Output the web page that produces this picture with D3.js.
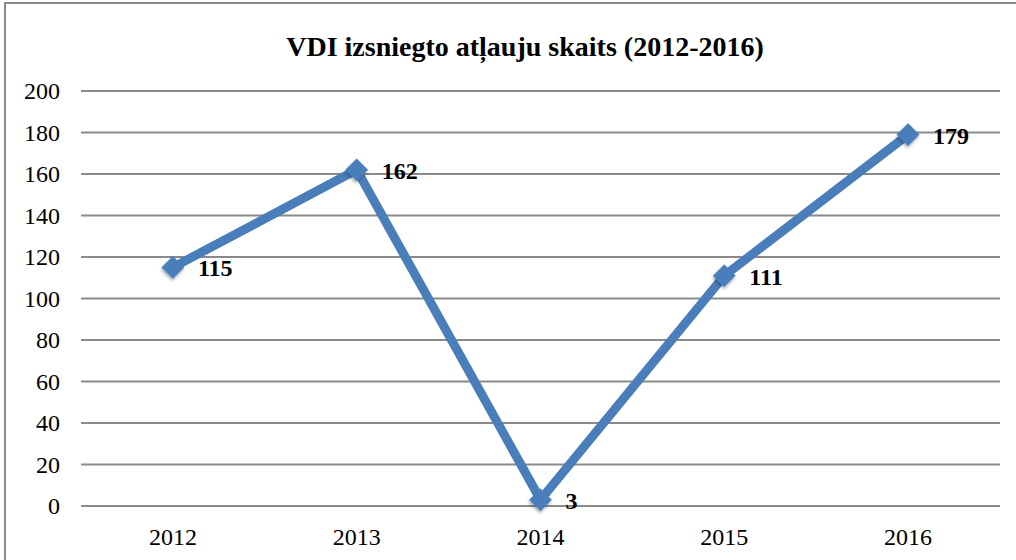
<!DOCTYPE html>
<html>
<head>
<meta charset="utf-8">
<script src="https://cdn.jsdelivr.net/npm/d3@7"></script>
<style>
  body { margin: 0; background: #fff; }
  svg text { font-family: "Liberation Serif", "Times New Roman", serif; fill: #000; }
</style>
</head>
<body>
<div class="chart"></div>
<script>
var svgWidth = 1016;
var svgHeight = 560;

// chart data
var years = ["2012", "2013", "2014", "2015", "2016"];
var permits = [115, 162, 3, 111, 179];
var yTicks = [0, 20, 40, 60, 80, 100, 120, 140, 160, 180, 200];
var chartTitle = "VDI izsniegto atļauju skaits (2012-2016)";

var margin = { top: 91, right: 16, bottom: 54, left: 81 };
var width = svgWidth - margin.left - margin.right;
var height = svgHeight - margin.top - margin.bottom;

var svg = d3.select(".chart")
  .append("svg")
  .attr("width", svgWidth)
  .attr("height", svgHeight);

// drop shadow for the markers
var defs = svg.append("defs");
var shadow = defs.append("filter").attr("id", "shadow")
  .attr("x", "-50%").attr("y", "-50%").attr("width", "200%").attr("height", "200%");
shadow.append("feDropShadow")
  .attr("dx", 1).attr("dy", 2).attr("stdDeviation", 1.5)
  .attr("flood-color", "#000").attr("flood-opacity", 0.35);

// outer frame
svg.append("rect")
  .attr("x", 5).attr("y", 3)
  .attr("width", svgWidth + 20).attr("height", svgHeight + 20)
  .attr("fill", "none")
  .attr("stroke", "#8c8c8c")
  .attr("stroke-width", 2);

// title
svg.append("text")
  .attr("x", 525)
  .attr("y", 56)
  .attr("text-anchor", "middle")
  .style("font-size", "28px")
  .style("font-weight", "bold")
  .text(chartTitle);

var chartGroup = svg.append("g")
  .attr("transform", `translate(${margin.left}, ${margin.top})`);

var xScale = d3.scaleBand()
  .domain(years)
  .range([0, width]);

var yScale = d3.scaleLinear()
  .domain([0, 200])
  .range([height, 0]);

// gridlines
chartGroup.append("g")
  .selectAll("line")
  .data(yTicks)
  .enter()
  .append("line")
  .attr("x1", 0)
  .attr("x2", width)
  .attr("y1", d => yScale(d))
  .attr("y2", d => yScale(d))
  .attr("stroke", "#8a8a8a")
  .attr("stroke-width", 2);

// y axis labels
var leftAxis = d3.axisLeft(yScale).tickValues(yTicks).tickSize(0).tickPadding(21);
var yAxis = chartGroup.append("g").call(leftAxis);
yAxis.select(".domain").remove();
yAxis.selectAll("text")
  .style("font-size", "24px")
  .style("font-family", "Liberation Serif, serif");

// x axis labels
var bottomAxis = d3.axisBottom(xScale).tickSize(0).tickPadding(22);
var xAxis = chartGroup.append("g")
  .attr("transform", `translate(0, ${height})`)
  .call(bottomAxis);
xAxis.select(".domain").remove();
xAxis.selectAll("text")
  .style("font-size", "24px")
  .style("font-family", "Liberation Serif, serif");

var xPos = function(i) { return xScale(years[i]) + xScale.bandwidth() / 2; };

// line
var line = d3.line()
  .x((d, i) => xPos(i))
  .y(d => yScale(d));

chartGroup.append("path")
  .datum(permits)
  .attr("d", line)
  .attr("fill", "none")
  .attr("stroke", "#4a7ebb")
  .attr("stroke-width", 9)
  .attr("stroke-linejoin", "miter");

// diamond markers
chartGroup.selectAll(".marker")
  .data(permits)
  .enter()
  .append("path")
  .attr("class", "marker")
  .attr("d", d3.symbol().type(d3.symbolSquare).size(260))
  .attr("transform", (d, i) => `translate(${xPos(i)}, ${yScale(d)}) rotate(45)`)
  .attr("fill", "#4a7ebb")
  .attr("filter", "url(#shadow)");

// data labels
chartGroup.selectAll(".label")
  .data(permits)
  .enter()
  .append("text")
  .attr("class", "label")
  .attr("x", (d, i) => xPos(i) + 25)
  .attr("y", d => yScale(d) + 9)
  .style("font-size", "24px")
  .style("font-weight", "bold")
  .text(d => d);
</script>
</body>
</html>
